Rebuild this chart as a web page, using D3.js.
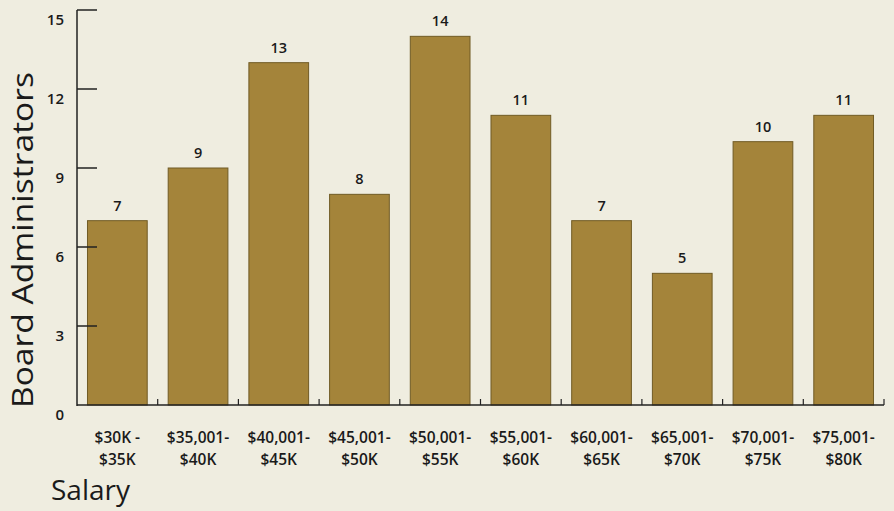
<!DOCTYPE html>
<html><head><meta charset="utf-8">
<script src="https://cdn.jsdelivr.net/npm/d3@7"></script>
<style>
html,body{margin:0;padding:0;background:#efede0;}
svg{display:block;}
text{font-family:"Open Sans","Noto Sans",sans-serif;fill:#1a1a1a;}
</style></head>
<body>
<svg id="c" width="894" height="511"></svg>
<script>
const categories = [["$30K -","$35K"],["$35,001-","$40K"],["$40,001-","$45K"],["$45,001-","$50K"],["$50,001-","$55K"],["$55,001-","$60K"],["$60,001-","$65K"],["$65,001-","$70K"],["$70,001-","$75K"],["$75,001-","$80K"]];
const values = [7, 9, 13, 8, 14, 11, 7, 5, 10, 11];
const yTicks = [0, 3, 6, 9, 12, 15];

const svg = d3.select("#c");
const mLeft = 77, mRight = 884, mTop = 10, mBottom = 405;

const x = d3.scaleBand().domain(d3.range(categories.length)).range([mLeft, mRight]).paddingInner(0.26).paddingOuter(0.13);
const y = d3.scaleLinear().domain([0, 15]).range([mBottom, mTop]);

// bars
svg.selectAll("rect.bar").data(values).join("rect")
  .attr("class","bar")
  .attr("x",(d,i)=>x(i))
  .attr("y",d=>y(d))
  .attr("width",x.bandwidth())
  .attr("height",d=>y(0)-y(d))
  .attr("fill","#a4843a")
  .attr("stroke","#705b25")
  .attr("stroke-width",1);

// value labels
svg.selectAll("text.val").data(values).join("text")
  .attr("class","val")
  .attr("x",(d,i)=>x(i)+x.bandwidth()/2)
  .attr("y",d=>y(d)-10)
  .attr("text-anchor","middle")
  .attr("font-size",14.5)
  .attr("font-weight",600)
  .text(d=>d);

// y axis line
svg.append("line").attr("x1",mLeft).attr("x2",mLeft).attr("y1",y(15)).attr("y2",y(0)+1)
  .attr("stroke","#222").attr("stroke-width",1.5);
// y ticks
svg.selectAll("line.yt").data(yTicks.filter(t=>t>0)).join("line")
  .attr("class","yt")
  .attr("x1",mLeft).attr("x2",mLeft+20)
  .attr("y1",d=>y(d)).attr("y2",d=>y(d))
  .attr("stroke","#222").attr("stroke-width",1.5);
svg.selectAll("text.yl").data(yTicks).join("text")
  .attr("class","yl")
  .attr("x",mLeft-13).attr("y",d=>y(d)+15)
  .attr("text-anchor","end")
  .attr("font-size",15).attr("font-weight",600)
  .text(d=>d);

// x axis line
svg.append("line").attr("x1",mLeft).attr("x2",mRight).attr("y1",y(0)).attr("y2",y(0))
  .attr("stroke","#222").attr("stroke-width",1.5);
// x boundary ticks
const bounds = d3.range(1, categories.length+1).map(i => i < categories.length ? (x(i-1)+x.bandwidth()+x(i))/2 : mRight);
svg.selectAll("line.xt").data(bounds).join("line")
  .attr("class","xt")
  .attr("x1",d=>d).attr("x2",d=>d)
  .attr("y1",y(0)).attr("y2",y(0)-6)
  .attr("stroke","#222").attr("stroke-width",1.2);

// x labels
const xl = svg.selectAll("text.xl").data(categories).join("text")
  .attr("class","xl")
  .attr("x",(d,i)=>x(i)+x.bandwidth()/2)
  .attr("y",443)
  .attr("text-anchor","middle")
  .attr("font-size",15.5).attr("font-weight",600);
xl.selectAll("tspan").data(d=>d).join("tspan")
  .attr("x",function(){return this.parentNode.getAttribute("x");})
  .attr("dy",(d,i)=>i===0?0:22)
  .text(d=>d);

// axis titles
svg.append("text")
  .attr("transform","translate(33,240) rotate(-90)")
  .attr("text-anchor","middle")
  .attr("font-size",29)
  .attr("textLength",336)
  .attr("lengthAdjust","spacingAndGlyphs")
  .text("Board Administrators");
svg.append("text")
  .attr("x",51).attr("y",500)
  .attr("font-size",28)
  .text("Salary");
</script>
</body></html>
